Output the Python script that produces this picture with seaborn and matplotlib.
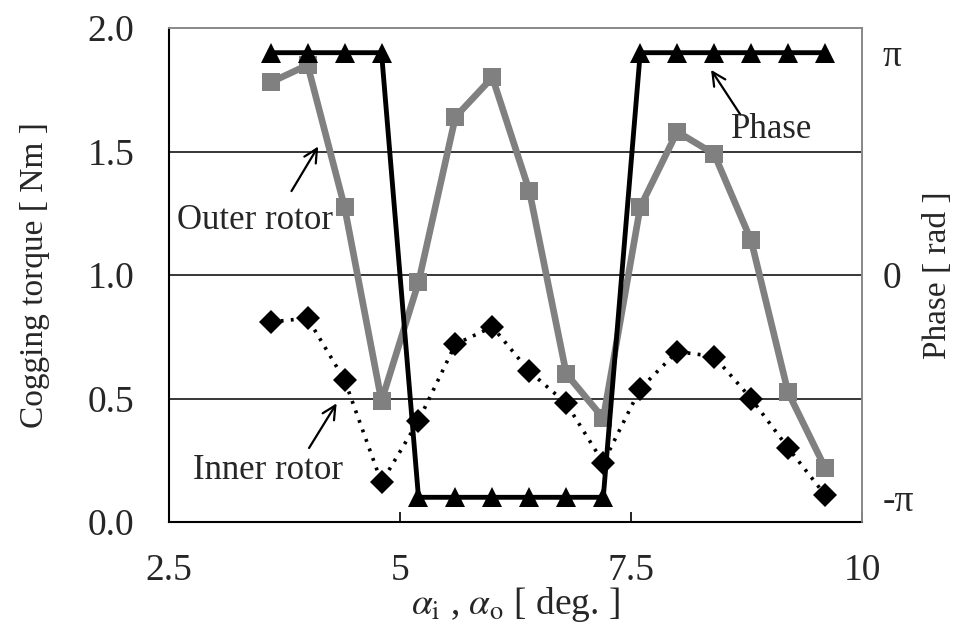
import numpy as np
import pandas as pd
import matplotlib
matplotlib.use("Agg")
import matplotlib.pyplot as plt
import seaborn as sns

# Slot-opening angle [deg.]
angle = [3.6, 4.0, 4.4, 4.8, 5.2, 5.6, 6.0, 6.4, 6.8, 7.2, 7.6, 8.0, 8.4, 8.8, 9.2, 9.6]
# Cogging torque amplitude [Nm]
outer_torque = [1.78, 1.85, 1.275, 0.49, 0.97, 1.64, 1.80, 1.34, 0.60, 0.42,
                1.275, 1.58, 1.49, 1.14, 0.525, 0.22]
inner_torque = [0.81, 0.825, 0.575, 0.16, 0.41, 0.72, 0.79, 0.61, 0.48, 0.24,
                0.54, 0.69, 0.67, 0.50, 0.30, 0.11]
# Phase difference between inner and outer cogging torque [rad]
phase = [np.pi] * 4 + [-np.pi] * 6 + [np.pi] * 6

x_ticks = [2.5, 5, 7.5, 10]
x_tick_labels = ["2.5", "5", "7.5", "10"]
y_ticks = [0.0, 0.5, 1.0, 1.5, 2.0]
y_tick_labels = ["0.0", "0.5", "1.0", "1.5", "2.0"]
phase_ticks = [-np.pi, 0, np.pi]
phase_tick_labels = ["-π", "0", "π"]

sns.set_style("white")
plt.rcParams["font.family"] = ["Liberation Serif", "DejaVu Serif"]
plt.rcParams["mathtext.fontset"] = "stix"

df = pd.DataFrame({"angle": angle, "outer": outer_torque,
                   "inner": inner_torque, "phase": phase})

fig, ax = plt.subplots(figsize=(9.57, 6.32), dpi=100)
fig.subplots_adjust(left=169 / 957, right=862 / 957, top=1 - 28 / 632, bottom=1 - 522 / 632)

grey = "#808080"
sns.lineplot(data=df, x="angle", y="outer", ax=ax, color=grey, lw=4.8,
             marker="s", markersize=13, markeredgewidth=0, zorder=3)
sns.lineplot(data=df, x="angle", y="inner", ax=ax, color="black", lw=2.6,
             linestyle=(0, (0.8, 2.0)), marker="D", markersize=12,
             markeredgewidth=0, zorder=4)

ax.set_xlim(2.5, 10)
ax.set_ylim(0, 2.0)
ax.set_xticks(x_ticks)
ax.set_xticklabels(x_tick_labels)
ax.set_yticks(y_ticks)
ax.set_yticklabels(y_tick_labels)
ax.tick_params(axis="x", direction="in", length=7, width=1.2, pad=23,
               labelsize=27, bottom=True, top=False, color="black")
ax.tick_params(axis="y", length=0, pad=25, labelsize=27)
for v in [0.5, 1.0, 1.5]:
    ax.axhline(v, color="black", lw=1.1, zorder=1)

for side in ["left", "bottom"]:
    ax.spines[side].set_color("black")
    ax.spines[side].set_linewidth(1.5)
for side in ["top", "right"]:
    ax.spines[side].set_color("#888888")
    ax.spines[side].set_linewidth(1.2)

ax.set_xlabel(r"$\alpha_\mathrm{i}$ , $\alpha_\mathrm{o}$ [ deg. ]", fontsize=27)
ax.xaxis.set_label_coords(0.5, -0.128)
ax.set_ylabel("Cogging torque [ Nm ]", fontsize=24)
ax.yaxis.set_label_coords(-0.172, 0.5)

ax2 = ax.twinx()
sns.lineplot(data=df, x="angle", y="phase", ax=ax2, color="black", lw=3.5,
             marker="^", markersize=15, markeredgewidth=0, zorder=5)
lim = np.pi * 10 / 9
ax2.set_ylim(-lim, lim)
ax2.set_yticks(phase_ticks)
ax2.set_yticklabels(phase_tick_labels)
ax2.tick_params(axis="y", length=0, pad=15, labelsize=27)
ax2.set_ylabel("Phase [ rad ]", fontsize=24)
ax2.yaxis.set_label_coords(1.088, 0.5)
for side in ["top", "right"]:
    ax2.spines[side].set_color("#888888")
    ax2.spines[side].set_linewidth(1.2)
ax2.spines["left"].set_visible(False)
ax2.spines["bottom"].set_visible(False)

arrow = dict(arrowstyle="->", color="black", lw=1.6, mutation_scale=24)
ax2.annotate("", xy=(4.13, 1.53), xytext=(3.81, 1.33), xycoords=ax.transData,
             textcoords=ax.transData, arrowprops=arrow)
ax2.text(2.59, 1.22, "Outer rotor", transform=ax.transData, fontsize=25,
         va="center", ha="left")
ax2.annotate("", xy=(4.33, 0.49), xytext=(4.0, 0.29), xycoords=ax.transData,
             textcoords=ax.transData, arrowprops=arrow)
ax2.text(2.76, 0.21, "Inner rotor", transform=ax.transData, fontsize=25,
         va="center", ha="left")
ax2.annotate("", xy=(8.35, 1.84), xytext=(8.70, 1.64), xycoords=ax.transData,
             textcoords=ax.transData, arrowprops=arrow)
ax2.text(8.58, 1.59, "Phase", transform=ax.transData, fontsize=25,
         va="center", ha="left")

for a in (ax, ax2):
    leg = a.get_legend()
    if leg is not None:
        leg.remove()

fig.savefig("out.png", dpi=100)
